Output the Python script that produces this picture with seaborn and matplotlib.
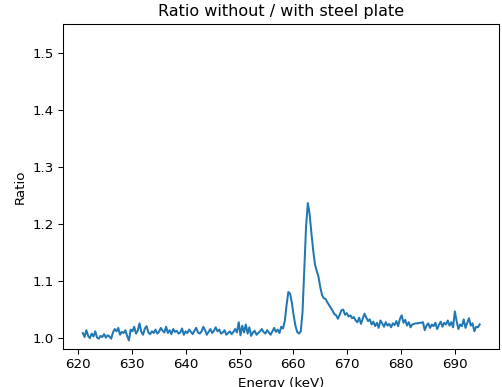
import numpy as np
import pandas as pd
import matplotlib
matplotlib.use("Agg")
import matplotlib.pyplot as plt
import seaborn as sns

# Ratio values, uniformly spaced energy bins
ratio = [
    1.009, 1.002, 1.014, 1.004, 1.000,
    1.008, 1.003, 1.012, 1.001, 0.999, 1.004, 1.002, 1.007, 1.001, 1.005,
    1.003, 0.999, 1.010, 1.016, 1.012, 1.018, 1.006, 1.011, 1.009, 1.014,
    1.004, 0.996, 1.015,
    1.012, 1.020, 1.008, 1.013, 1.026, 1.011, 1.006, 1.017, 1.021, 1.010,
    1.007, 1.012, 1.009, 1.015, 1.008, 1.011, 1.018, 1.013, 1.010, 1.020,
    1.009, 1.014, 1.007, 1.016, 1.011, 1.013, 1.008, 1.010, 1.017, 1.006,
    1.012, 1.009, 1.015, 1.011, 1.007, 1.013, 1.018, 1.010, 1.008, 1.012,
    1.020, 1.014, 1.006, 1.011, 1.016, 1.009, 1.013, 1.019, 1.012, 1.015,
    1.008, 1.010, 1.014, 1.006, 1.009, 1.012, 1.007, 1.011, 1.016, 1.010,
    1.028, 1.005, 1.022, 1.010, 1.024, 1.008, 1.019, 1.004, 1.010, 1.013,
    1.006, 1.009, 1.012, 1.016, 1.011, 1.008, 1.014, 1.010,
    1.006, 1.012, 1.018, 1.011, 1.015, 1.009, 1.020, 1.017, 1.030, 1.058,
    1.081, 1.078, 1.062, 1.040, 1.022, 1.011, 1.008, 1.012, 1.045, 1.120,
    1.195, 1.237, 1.218, 1.185, 1.155, 1.130, 1.118, 1.108, 1.090, 1.076,
    1.070, 1.069, 1.063, 1.058, 1.053, 1.048, 1.042, 1.040, 1.034, 1.041,
    1.049, 1.050, 1.041, 1.044, 1.038, 1.040, 1.035, 1.037, 1.031, 1.028,
    1.036, 1.025, 1.034,
    1.043, 1.036, 1.030, 1.033, 1.024, 1.029, 1.021, 1.027, 1.018, 1.031,
    1.026, 1.020, 1.028, 1.022, 1.025, 1.019, 1.026, 1.023, 1.030, 1.021,
    1.034, 1.040, 1.027, 1.032, 1.022, 1.028, 1.019, 1.024, 1.025, 1.026,
    1.026, 1.027, 1.027, 1.028, 1.014, 1.022, 1.026, 1.018, 1.024, 1.021,
    1.027, 1.016, 1.023, 1.029, 1.020, 1.027, 1.024, 1.031, 1.022, 1.028,
    1.019, 1.047, 1.030, 1.016, 1.024, 1.021, 1.033, 1.018, 1.027, 1.035,
    1.022, 1.026, 1.012, 1.020, 1.019, 1.024,
]
energy_start = 620.9
energy_end = 694.6
energy = np.linspace(energy_start, energy_end, len(ratio))

df = pd.DataFrame({"Energy (keV)": energy, "Ratio": ratio})

DPI = 96
fig = plt.figure(figsize=(502 / DPI, 387 / DPI), dpi=DPI)
ax = fig.add_axes([0.1255, 0.0982, 0.8695, 0.8398])
sns.lineplot(data=df, x="Energy (keV)", y="Ratio", ax=ax, color="#1f77b4", linewidth=1.5)
ax.set_ylim(0.981, 1.551)
ax.set_xticks([620, 630, 640, 650, 660, 670, 680, 690])
ax.set_yticks([1.0, 1.1, 1.2, 1.3, 1.4, 1.5])
ax.set_xlabel("Energy (keV)")
ax.set_ylabel("Ratio")
ax.set_title("Ratio without / with steel plate")
fig.savefig("out.png", dpi=DPI)
